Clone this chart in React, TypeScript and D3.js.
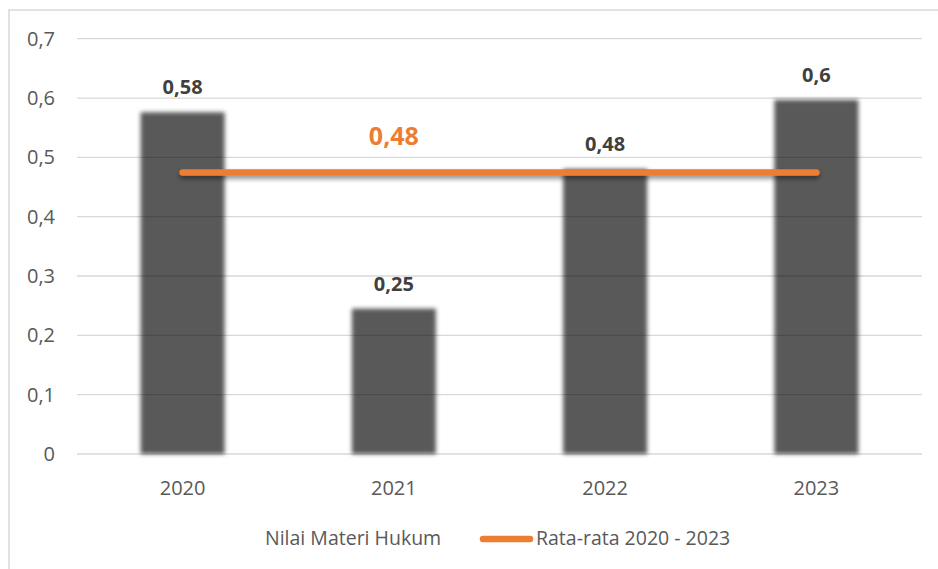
import React from "react";
import * as d3 from "d3";

const categories = ["2020", "2021", "2022", "2023"];
const values = [0.576, 0.245, 0.48, 0.597];
const valueLabels = ["0,58", "0,25", "0,48", "0,6"];
const averageValue = 0.4745;
const averageLabel = "0,48";
const yTicks = [0, 0.1, 0.2, 0.3, 0.4, 0.5, 0.6, 0.7];
const seriesNames = ["Nilai Materi Hukum", "Rata-rata 2020 - 2023"];

const W = 938;
const H = 569;
const FONT = "'Open Sans', 'DejaVu Sans', sans-serif";

export default function App() {
  const xc = d3.scaleBand<string>().domain(categories).range([77, 922]);
  const y = d3.scaleLinear().domain([0, 0.7]).range([454, 38.7]);
  const fmt = (v: number) => (v === 0 ? "0" : d3.format(".1f")(v).replace(".", ","));
  const c = (k: string) => (xc(k) as number) + xc.bandwidth() / 2;
  const lineGen = d3.line<string>().x((d) => c(d)).y(() => y(averageValue));

  return (
    <svg width={W} height={H} style={{ position: "absolute", left: 0, top: 0, background: "#fff" }} fontFamily={FONT}>
      <defs>
        <filter id="soft" filterUnits="userSpaceOnUse" x={0} y={0} width={W} height={H}>
          <feGaussianBlur stdDeviation="2" />
        </filter>
        <filter id="shadow" filterUnits="userSpaceOnUse" x={0} y={0} width={W} height={H}>
          <feGaussianBlur in="SourceAlpha" stdDeviation="2.5" result="b" />
          <feOffset in="b" dy="3" result="o" />
          <feComponentTransfer in="o" result="s">
            <feFuncA type="linear" slope="0.45" />
          </feComponentTransfer>
          <feMerge>
            <feMergeNode in="s" />
            <feMergeNode in="SourceGraphic" />
          </feMerge>
        </filter>
      </defs>
      <rect x={9} y={10} width={940} height={580} fill="#fff" stroke="#d9d9d9" strokeWidth={1.5} />
      {yTicks.map((t) => (
        <g key={t}>
          <line x1={77} x2={922} y1={y(t)} y2={y(t)} stroke="#d9d9d9" strokeWidth={1.3} />
          <text x={55} y={y(t)} dy="0.35em" textAnchor="end" fontSize={20} fill="#595959">
            {fmt(t)}
          </text>
        </g>
      ))}
      <g filter="url(#soft)">
        {categories.map((k, i) => (
          <rect key={k} x={c(k) - 42} y={y(values[i])} width={84} height={y(0) - y(values[i])} fill="#000" fillOpacity={0.65} />
        ))}
      </g>
      {categories.map((k, i) => (
        <text key={k} x={c(k)} y={y(values[i]) - 18} textAnchor="middle" fontSize={20} fontWeight="bold" fill="#404040">
          {valueLabels[i]}
        </text>
      ))}
      <path d={lineGen(categories) || ""} stroke="#ED7D31" strokeWidth={6.5} strokeLinecap="round" fill="none" filter="url(#shadow)" />
      <text x={c("2021")} y={145} textAnchor="middle" fontSize={25} fontWeight="bold" fill="#ED7D31">
        {averageLabel}
      </text>
      {categories.map((k) => (
        <text key={k} x={c(k)} y={495} textAnchor="middle" fontSize={20} fill="#595959">
          {k}
        </text>
      ))}
      <text x={265} y={545} fontSize={19.5} fill="#595959">{seriesNames[0]}</text>
      <line x1={483} x2={530} y1={539} y2={539} stroke="#ED7D31" strokeWidth={6.5} strokeLinecap="round" />
      <text x={536} y={545} fontSize={19.5} fill="#595959">{seriesNames[1]}</text>
    </svg>
  );
}
